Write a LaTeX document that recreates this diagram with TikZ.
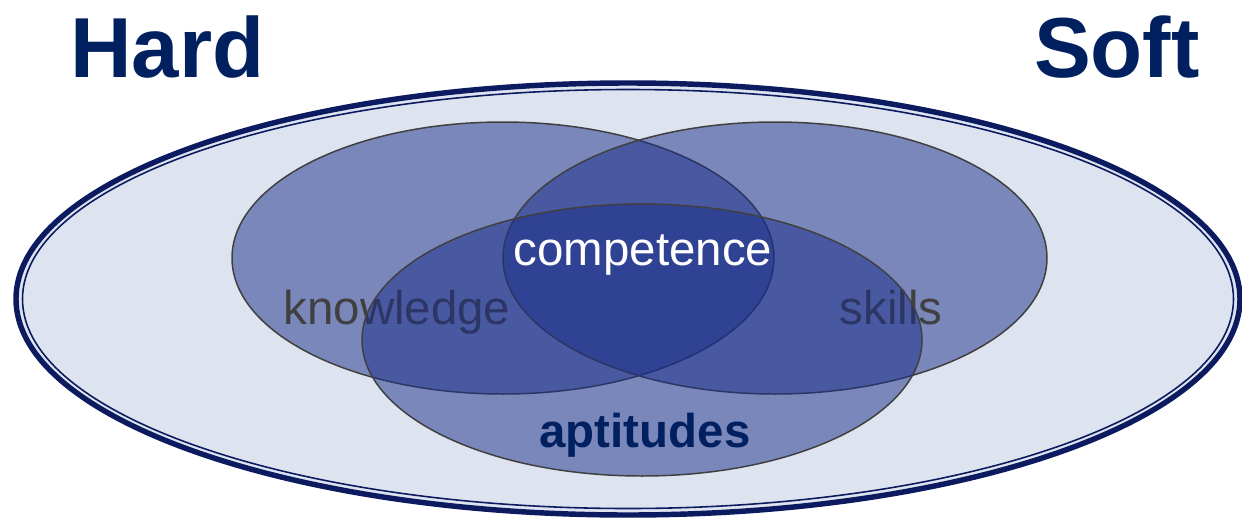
\documentclass[tikz,border=0pt]{standalone}
\usepackage{fontspec}
\setmainfont{Liberation Sans}
\usepackage{tikz}
\definecolor{navy}{RGB}{0,32,96}
\definecolor{rim}{RGB}{12,26,96}
\definecolor{pale}{RGB}{221,228,240}
\definecolor{venn}{RGB}{25,44,136}
\definecolor{edge}{RGB}{64,64,64}
\begin{document}
\begin{tikzpicture}[x=0.02cm,y=-0.02cm,
  set/.style={fill=venn,fill opacity=0.5,draw=edge,line width=0.85pt},
  word/.style={anchor=base,inner sep=0pt,font=\fontsize{27}{30}\selectfont}]
\useasboundingbox (0,0) rectangle (1242,518);
% outer field
\fill [pale] (628,299) ellipse (612 and 216);
\draw [rim,line width=3.1pt] (628,299) ellipse (612 and 216);
\draw [rim,line width=0.9pt] (628,299) ellipse (605.5 and 209.5);

\node [anchor=base west,inner sep=0pt,navy,font=\fontsize{48.5}{52}\selectfont\bfseries] (hard) at (70,77) {Hard};
\node [anchor=base east,inner sep=0pt,navy,font=\fontsize{48.5}{52}\selectfont\bfseries] (soft) at (1200,77) {Soft};

% the three sets
\draw [set] (503,258) ellipse (271 and 136);
\draw [set] (775,258) ellipse (272 and 136);
\node [word,edge] (know) at (397,324) {knowledge};
\node [word,edge] (skill) at (891,324) {skills};
\draw [set] (642,340) ellipse (280 and 136);

\node [word,white] (comp) at (643,265) {competence};
\node [word,navy,font=\fontsize{27}{30}\selectfont\bfseries] (apt) at (645,447) {aptitudes};
\end{tikzpicture}
\end{document}
